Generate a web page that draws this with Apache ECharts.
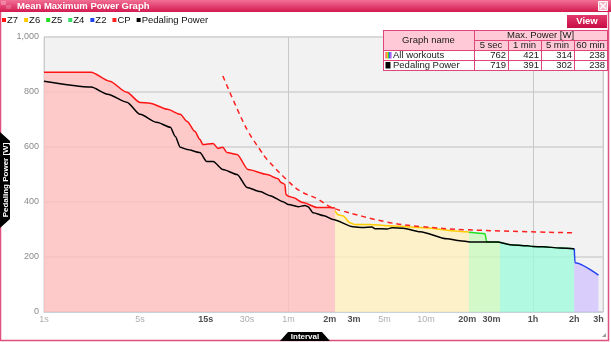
<!DOCTYPE html>
<html><head><meta charset="utf-8">
<script src="https://cdn.jsdelivr.net/npm/echarts@6/dist/echarts.min.js"></script>
<style>html,body{margin:0;padding:0;background:#fff}#c{width:611px;height:342px}</style>
</head><body><div id="c"></div>
<script>
// ---- data (duration in seconds, power in W) ----
const z7Data = [[1,872],[2.2,872],[3,839],[4,799],[5,762],[5.9,759],[7.9,737],[9.8,719],[11,693],[12.5,657],[13.6,628],[14.3,609],[17,613],[18.4,595],[20,599],[21.4,580],[25.4,573],[30.5,518],[41.9,500],[50.4,485],[53,471],[56.6,464],[57.5,427],[60,421],[64.8,416],[76.6,398],[96.8,380],[120,380],[131,378]];
const z6Data = [[131,369],[137.7,354],[149.6,350],[168,325],[183,318],[235,318],[313,314],[544,307],[1193,292],[1234,290]];
const z5Data = [[1234,290],[1614,285],[1660,255],[2076,255]];
const z4Data = [[2076,254],[2455,245],[3263,241],[3600,238],[4265,237],[5667,233],[7052,230],[7200,230]];
const z2Data = [[7200,230],[7290,179],[10800,134]];
const cpData = [[20,858],[25.5,737],[30.5,657],[37.3,590],[41.9,555],[58.6,480],[72.8,440],[96.8,412],[120,383],[142,370],[313,327],[544,311],[1193,299],[7052,288]];
const pedalingData = [[1,839],[2.2,818],[2.9,792],[4,763],[5,719],[6.6,690],[8.3,672],[9,639],[9.8,599],[11,591],[13.6,580],[15.3,547],[17,547],[20,518],[25.4,500],[30,453],[37.3,438],[44.1,423],[54.8,401],[60,391],[70.4,383],[79.2,387],[83.3,383],[90.5,361],[109,350],[126.6,336],[177,310],[209,307],[243,309],[256,303],[313,302],[340,306],[409,305],[544,292],[854,266],[1062,259],[1256,255],[1614,255],[1975,255],[2455,245],[3263,241],[3600,238],[4265,237],[5667,233],[7052,230],[7200,230]];

const tickValues = [1,5,15,30,60,120,180,300,600,1200,1800,3600,7200,10800];
const tickLabels = ['1s','5s','15s','30s','1m','2m','3m','5m','10m','20m','30m','1h','2h','3h'];
const tickMajor = [0,0,1,0,0,1,1,0,0,1,1,1,1,1];

const tableCols = ['5 sec','1 min','5 min','60 min'];
const tableRowNames = ['All workouts','Pedaling Power'];
const allWorkoutsMax = [762,421,314,238];
const pedalingMax = [719,391,302,238];

const FONT = '"Liberation Sans", Arial, sans-serif';

function zone(name, data, lineColor, fill) {
  return {
    name, type:'line', data, symbol:'none', smooth:0.25, smoothMonotone:'x',
    lineStyle:{color:lineColor, width:1.5}, itemStyle:{color:lineColor},
    areaStyle:{color:fill, opacity:1}, z:2, silent:true
  };
}

const tickSeries = {
  type:'scatter', name:'ticks', symbolSize:1, silent:true,
  itemStyle:{color:'rgba(0,0,0,0)'},
  data: tickValues.map((t,i)=>({
    value:[t,0],
    label:{show:true, position:'bottom', distance:3, formatter:tickLabels[i],
      fontFamily:FONT, fontSize:9,
      color: tickMajor[i] ? '#222' : '#999',
      fontWeight: tickMajor[i] ? 'bold' : 'normal'}
  })),
  z:10
};

// ---- decorations ----
const G = [];
const txt = (text, x, y, opt={}) => ({type:'text', z:101, style:{text, x, y,
  font: (opt.bold?'bold ':'') + (opt.size||9.5) + 'px ' + FONT, fill: opt.fill||'#1a1a1a',
  align: opt.align||'left', verticalAlign:'middle'}});
// title bar
G.push({type:'rect', z:100, shape:{x:0,y:0,width:611,height:12},
  style:{fill:{type:'linear',x:0,y:0,x2:0,y2:1,colorStops:[{offset:0,color:'#f27095'},{offset:1,color:'#d31a4f'}]}}});
G.push({type:'rect', z:100, shape:{x:1,y:1,width:5,height:4}, style:{fill:'rgba(255,255,255,0.25)'}});
G.push({type:'rect', z:100, shape:{x:6,y:5,width:5,height:4}, style:{fill:'rgba(255,255,255,0.2)'}});
G.push(txt('Mean Maximum Power Graph', 17, 6.5, {bold:true, fill:'#fff', size:9.5}));
// close button
G.push({type:'rect', z:101, shape:{x:598.5,y:1.5,width:9,height:9}, style:{fill:'#f5b8cb', stroke:'#fff', lineWidth:1}});
G.push({type:'line', z:102, shape:{x1:600,y1:3,x2:606,y2:9}, style:{stroke:'#fff', lineWidth:1.2}});
G.push({type:'line', z:102, shape:{x1:606,y1:3,x2:600,y2:9}, style:{stroke:'#fff', lineWidth:1.2}});
// view button
G.push({type:'rect', z:100, shape:{x:567,y:15,width:40,height:13},
  style:{fill:{type:'linear',x:0,y:0,x2:0,y2:1,colorStops:[{offset:0,color:'#e23a6c'},{offset:1,color:'#c70c44'}]}}});
G.push(txt('View', 587, 21.5, {bold:true, fill:'#fff', align:'center'}));
// table
const cx = [383,474,508,541,574,607], ry = [30,40,50,60,70];
const border = '#e0467a';
G.push({type:'rect', z:100, shape:{x:cx[0],y:ry[0],width:cx[5]-cx[0],height:ry[2]-ry[0]}, style:{fill:'#ffc9d8'}});
G.push({type:'rect', z:100, shape:{x:cx[0],y:ry[2],width:cx[5]-cx[0],height:ry[4]-ry[2]}, style:{fill:'#fff'}});
const ln = (x1,y1,x2,y2) => G.push({type:'line', z:101, shape:{x1,y1,x2,y2}, style:{stroke:border, lineWidth:1}});
ln(cx[0],ry[0]+0.5,cx[5],ry[0]+0.5); ln(cx[0],ry[4]+0.5,cx[5],ry[4]+0.5);
ln(cx[1],ry[1]+0.5,cx[5],ry[1]+0.5); ln(cx[0],ry[2]+0.5,cx[5],ry[2]+0.5); ln(cx[0],ry[3]+0.5,cx[5],ry[3]+0.5);
ln(cx[0]+0.5,ry[0],cx[0]+0.5,ry[4]); ln(cx[5]+0.5,ry[0],cx[5]+0.5,ry[4]+1); ln(cx[1]+0.5,ry[0],cx[1]+0.5,ry[4]);
for (let i=2;i<5;i++) ln(cx[i]+0.5,ry[1],cx[i]+0.5,ry[4]);
G.push(txt('Graph name', (cx[0]+cx[1])/2, 40.5, {align:'center'}));
G.push(txt('Max. Power [W]', (cx[1]+cx[5])/2, 35.5, {align:'center'}));
tableCols.forEach((c,i)=>G.push(txt(c, (cx[i+1]+cx[i+2])/2, 45.5, {align:'center'})));
[allWorkoutsMax, pedalingMax].forEach((row,r)=>{
  G.push(txt(tableRowNames[r], 393, 55.5+10*r));
  row.forEach((v,i)=>G.push(txt(String(v), cx[i+2]-2, 55.5+10*r, {align:'right'})));
});
['#ff3030','#ffc000','#30d030','#3050ff','#a040ff'].forEach((c,i)=>
  G.push({type:'rect', z:101, shape:{x:385.5+i*1.2,y:52,width:1.2,height:6.5}, style:{fill:c}}));
G.push({type:'rect', z:101, shape:{x:385.5,y:62,width:5,height:6.5}, style:{fill:'#000'}});
// y axis name tab
G.push({type:'polygon', z:100, shape:{points:[[0,132],[10,141],[10,219],[0,228]]}, style:{fill:'#000'}});
G.push({type:'text', z:101, x:5.5, y:180, rotation:Math.PI/2,
  style:{text:'Pedaling Power [W]', x:0, y:0, font:'bold 8px '+FONT, fill:'#fff', align:'center', verticalAlign:'middle'}});
// interval tab
G.push({type:'polygon', z:100, shape:{points:[[288,332],[322,332],[330,341],[280,341]]}, style:{fill:'#000'}});
G.push(txt('Interval', 305, 337, {bold:true, size:8, fill:'#fff', align:'center'}));
// window border
G.push({type:'rect', z:99, shape:{x:0.5,y:0,width:608,height:340.5}, style:{fill:'none', stroke:'#e0507e', lineWidth:1.5}});
G.push({type:'polygon', z:100, shape:{points:[[606,333],[606,337],[602,337]]}, style:{fill:'#999'}});

const chart = echarts.init(document.getElementById('c'), null, {renderer:'canvas'});
chart.setOption({
  animation:false,
  backgroundColor:'#fff',
  textStyle:{fontFamily:FONT},
  legend:{
    data:['Z7','Z6','Z5','Z4','Z2','CP','Pedaling Power'],
    left:2, top:15, padding:0, icon:'rect', itemWidth:4, itemHeight:4, itemGap:6,
    itemStyle:{borderWidth:0}, lineStyle:{width:0},
    textStyle:{fontSize:9.5, color:'#111', fontFamily:FONT, padding:[0,0,0,-4]}, selectedMode:false
  },
  grid:{left:44, right:8, top:37, bottom:30, show:true, backgroundColor:'#f2f2f2', borderColor:'#d2d2d2', borderWidth:1},
  xAxis:{
    type:'log', logBase:60, min:1, max:11650,
    axisLabel:{show:false}, axisTick:{show:false}, minorTick:{show:false},
    axisLine:{show:true, lineStyle:{color:'#c4d0dc', width:1.5}},
    splitLine:{show:true, lineStyle:{color:'#c8c8c8', width:1}}
  },
  yAxis:{
    type:'value', min:0, max:1000, interval:200,
    axisLabel:{color:'#8a8a8a', fontSize:9, margin:5, fontFamily:FONT,
      formatter:v=>v.toLocaleString('en-US')},
    axisTick:{show:false},
    axisLine:{show:true, lineStyle:{color:'#cccccc'}},
    splitLine:{show:true, lineStyle:{color:'#d9d9d9', width:2}}
  },
  graphic:{elements:G},
  series:[
    zone('Z7', z7Data, '#ff1414', 'rgba(255,190,190,0.8)'),
    zone('Z6', z6Data, '#ffcc00', 'rgba(255,240,190,0.8)'),
    zone('Z5', z5Data, '#22dd22', 'rgba(202,250,190,0.8)'),
    zone('Z4', z4Data, '#33dd66', 'rgba(160,250,220,0.8)'),
    zone('Z2', z2Data, '#2244ee', 'rgba(210,195,252,0.8)'),
    {name:'CP', type:'line', data:cpData, symbol:'none', smooth:0.4, silent:true,
     lineStyle:{color:'#ff2020', width:1.5, type:[5,4]}, itemStyle:{color:'#ff2020'}, z:3},
    {name:'Pedaling Power', type:'line', data:pedalingData, symbol:'none', smooth:0.25, smoothMonotone:'x', silent:true,
     lineStyle:{color:'#000', width:1.5}, itemStyle:{color:'#000'}, z:4},
    tickSeries
  ]
});
</script></body></html>
